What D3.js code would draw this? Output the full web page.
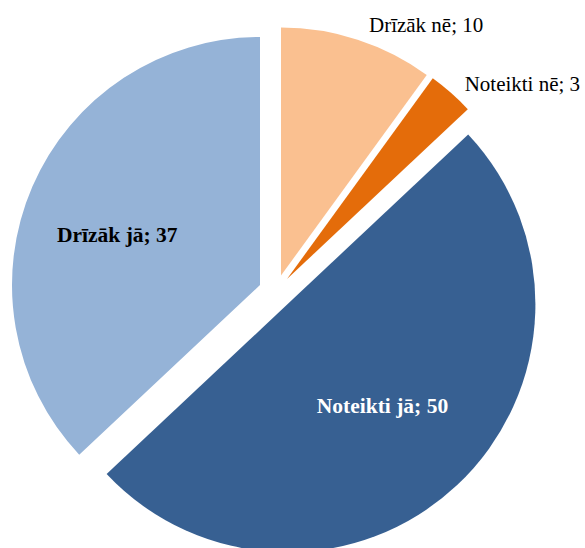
<!DOCTYPE html>
<html>
<head>
<meta charset="utf-8">
<script src="https://cdn.jsdelivr.net/npm/d3@7"></script>
<style>
  html, body { margin: 0; padding: 0; background: #fff; }
  svg { display: block; }
  text { font-family: "Times New Roman", "Liberation Serif", serif; }
</style>
</head>
<body>
<svg id="chart" width="585" height="548"></svg>
<script>
const categories = ["Drīzāk nē", "Noteikti nē", "Noteikti jā", "Drīzāk jā"];
const values = [10, 3, 50, 37];
const colors = ["#FAC090", "#E46C0A", "#376092", "#95B3D7"];

const labelStyle = [
  { inside: false, bold: false, fill: "#000", rOff: 42, aOff: 0.21 },
  { inside: false, bold: false, fill: "#000", rOff: 58, aOff: 0.155 },
  { inside: true, bold: true, fill: "#fff", rFrac: 0.56, aOff: 0 },
  { inside: true, bold: true, fill: "#000", rFrac: 0.61, aOff: -0.07 }
];

const W = 585, H = 548;
const cx = 275.7, cy = 291.8, R = 248, explode = 17.1;

const svg = d3.select("#chart");
const data = categories.map((c, i) => ({ cat: c, value: values[i], color: colors[i], st: labelStyle[i] }));

const pie = d3.pie().sort(null).value(d => d.value).startAngle(0).endAngle(2 * Math.PI);
const arc = d3.arc().innerRadius(0).outerRadius(R);
const arcs = pie(data);

const g = svg.append("g").attr("transform", `translate(${cx},${cy})`);

const slices = g.selectAll("g.slice").data(arcs).enter().append("g")
  .attr("class", "slice")
  .attr("transform", d => {
    const m = (d.startAngle + d.endAngle) / 2;
    return `translate(${explode * Math.sin(m)},${-explode * Math.cos(m)})`;
  });

slices.append("path")
  .attr("d", arc)
  .attr("fill", d => d.data.color);

slices.each(function(d) {
  const sel = d3.select(this);
  const m = (d.startAngle + d.endAngle) / 2;
  const st = d.data.st;
  const txt = d.data.cat + "; " + d.data.value;
  const rr = st.inside ? R * st.rFrac : R + st.rOff;
  const ang = m + st.aOff;
  sel.append("text")
    .attr("x", rr * Math.sin(ang))
    .attr("y", -rr * Math.cos(ang))
    .attr("dy", "0.35em")
    .attr("text-anchor", "middle")
    .attr("font-size", st.bold ? "21.5px" : "21px")
    .attr("font-weight", st.bold ? "bold" : "normal")
    .attr("fill", st.fill)
    .text(txt);
});
</script>
</body>
</html>
